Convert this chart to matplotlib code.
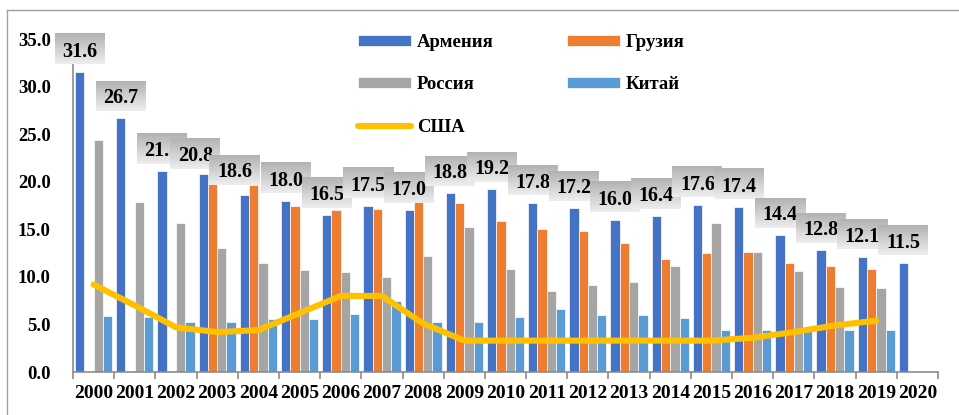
import numpy as np
import matplotlib.pyplot as plt
from matplotlib.colors import LinearSegmentedColormap
from matplotlib.lines import Line2D
from matplotlib.ticker import FormatStrFormatter, FixedLocator

plt.rcParams['font.family'] = ['Liberation Serif', 'DejaVu Serif']
plt.rcParams['font.weight'] = 'bold'

years = [str(y) for y in range(2000, 2021)]
nan = np.nan
armenia = [31.6, 26.7, 21.1, 20.8, 18.6, 18.0, 16.5, 17.5, 17.0, 18.8, 19.2,
           17.8, 17.2, 16.0, 16.4, 17.6, 17.4, 14.4, 12.8, 12.1, 11.5]
georgia = [nan, nan, nan, 19.8, 19.7, 17.5, 17.0, 17.1, 17.9, 17.8, 15.9,
           15.0, 14.8, 13.6, 11.9, 12.5, 12.6, 11.5, 11.1, 10.8, nan]
russia = [24.4, 17.9, 15.7, 13.0, 11.5, 10.7, 10.5, 10.0, 12.2, 15.3, 10.8,
          8.5, 9.1, 9.5, 11.2, 15.7, 12.6, 10.6, 8.9, 8.8, nan]
china = [5.9, 5.8, 5.3, 5.3, 5.6, 5.6, 6.1, 7.5, 5.3, 5.3, 5.8,
         6.6, 6.0, 6.0, 5.7, 4.4, 4.4, 4.3, 4.4, 4.4, nan]
usa = [9.2, 7.0, 4.7, 4.2, 4.4, 6.2, 8.0, 8.0, 5.1, 3.3, 3.3,
       3.3, 3.3, 3.3, 3.3, 3.3, 3.6, 4.2, 4.9, 5.4]

names = ['Армения', 'Грузия', 'Россия', 'Китай']
colors = ['#4472C4', '#ED7D31', '#A5A5A5', '#5B9BD5']

# label nudges in pixels (dx, extra dy) for a couple of boxes
nudge = {3: (-8, -2), 4: (-10, 3)}

W, H = 959, 415
fig = plt.figure(figsize=(W / 100, H / 100), dpi=100)
ax = fig.add_axes([73 / W, 43 / H, 865 / W, 332.8 / H])
ax.set_autoscale_on(False)
ax.set_xlim(-0.5, 20.5)
ax.set_ylim(0, 35)

x = np.arange(len(years))
bw = 0.226
handles = []
for k, (vals, col, nm) in enumerate(zip([armenia, georgia, russia, china], colors, names)):
    b = ax.bar(x + (k - 1.5) * bw, np.array(vals, dtype=float), bw, color=col,
               edgecolor='white', linewidth=0.5, label=nm, zorder=2)
    handles.append(b)

line, = ax.plot(x[:len(usa)], usa, color='#FFC000', lw=4.4, solid_capstyle='round',
                solid_joinstyle='round', zorder=3, label='США')

# value boxes for Armenia
pxx = 865 / 21
pxy = 332.8 / 35
cmap = LinearSegmentedColormap.from_list('g', ['#b2b2b2', '#eeeeee'])
grad = np.linspace(0, 1, 64).reshape(-1, 1)
for i, v in enumerate(armenia):
    dx, dy = nudge.get(i, (0, 0))
    cx = x[i] - 1.5 * bw + dx / pxx
    cy = v + (22.5 + dy) / pxy
    hw, hh = 25 / pxx, 15 / pxy
    ax.imshow(grad, extent=[cx - hw, cx + hw, cy - hh, cy + hh], cmap=cmap,
              aspect='auto', origin='upper', clip_on=False, zorder=10 + 2 * i,
              interpolation='bilinear')
    ax.text(cx, cy, f'{v:.1f}', ha='center', va='center_baseline', fontsize=14.5,
            fontweight='bold', color='black', zorder=11 + 2 * i, clip_on=False)

ax.set_xlim(-0.5, 20.5)
ax.set_ylim(0, 35)

for s in ['top', 'right']:
    ax.spines[s].set_visible(False)
for s in ['left', 'bottom']:
    ax.spines[s].set_color('#8c8c8c')
    ax.spines[s].set_linewidth(1.2)

ax.set_xticks(x)
ax.set_xticklabels(years)
ax.xaxis.set_minor_locator(FixedLocator(np.arange(-0.5, 21, 1)))
ax.tick_params(axis='x', which='major', length=0, pad=9, labelsize=14)
ax.tick_params(axis='x', which='minor', length=5, color='#8c8c8c', width=1.2)
ax.set_yticks(np.arange(0, 36, 5))
ax.yaxis.set_major_formatter(FormatStrFormatter('%.1f'))
ax.tick_params(axis='y', length=0, pad=16, labelsize=13.5)
for t in ax.get_xticklabels() + ax.get_yticklabels():
    t.set_fontweight('bold')

order = [handles[0], handles[2], line, handles[1], handles[3]]
fig.legend(order, [h.get_label() for h in order], ncol=2, frameon=False,
           loc='upper left', bbox_to_anchor=(358 / W, 1 - 34 / H),
           prop={'weight': 'bold', 'size': 13.5},
           handlelength=2.85, handleheight=0.5, handletextpad=0.3,
           columnspacing=3.9, labelspacing=1.35, borderpad=0, borderaxespad=0)

# outer frame lines
fig.add_artist(Line2D([6.5 / W, 6.5 / W], [0, 1 - 10 / H], color='#a0a0a0', lw=1))
fig.add_artist(Line2D([6.5 / W, 1], [1 - 10 / H, 1 - 10 / H], color='#a0a0a0', lw=1))

fig.savefig('out.png', dpi=100)
